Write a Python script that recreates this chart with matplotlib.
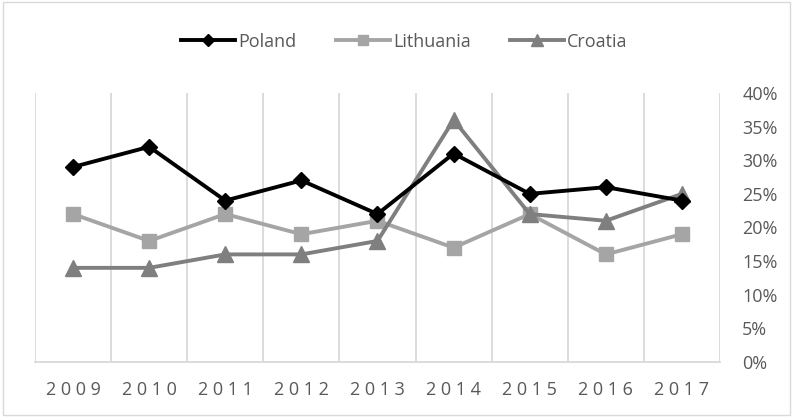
import numpy as np
import matplotlib.pyplot as plt
from matplotlib.patches import Rectangle
from matplotlib.ticker import FuncFormatter

years = ["2009", "2010", "2011", "2012", "2013", "2014", "2015", "2016", "2017"]
poland = [29, 32, 24, 27, 22, 31, 25, 26, 24]
lithuania = [22, 18, 22, 19, 21, 17, 22, 16, 19]
croatia = [14, 14, 16, 16, 18, 36, 22, 21, 25]

plt.rcParams['font.family'] = ['Open Sans', 'DejaVu Sans']
txt = '#595959'

fig = plt.figure(figsize=(7.93, 4.17), dpi=100)
ax = fig.add_axes([35 / 793, 55 / 417, 685 / 793, 269 / 417])

x = np.arange(len(years))
ax.plot(x, poland, color='black', lw=2.8, marker='D', ms=8, label='Poland', zorder=5)
ax.plot(x, lithuania, color='#A5A5A5', lw=2.8, marker='s', ms=10.5, label='Lithuania', zorder=3)
ax.plot(x, croatia, color='#7F7F7F', lw=2.8, marker='^', ms=11, label='Croatia', zorder=4)

ax.set_xlim(-0.5, len(years) - 0.5)
ax.set_ylim(0, 40)
ax.set_yticks(np.arange(0, 41, 5))
ax.yaxis.set_major_formatter(FuncFormatter(lambda v, p: f"{v:.0f}%"))
ax.yaxis.tick_right()
ax.set_xticks(x)
ax.set_xticklabels([" ".join(y) for y in years])
ax.tick_params(axis='both', length=0, labelsize=13, colors=txt)
ax.tick_params(axis='x', pad=14)
ax.tick_params(axis='y', pad=16)

# vertical gridlines at category boundaries
for b in np.arange(-0.5, len(years) + 0.5, 1):
    ax.axvline(b, color='#D9D9D9', lw=1.3, zorder=0)
for s in ['top', 'left', 'right']:
    ax.spines[s].set_visible(False)
ax.spines['bottom'].set_color('#D9D9D9')
ax.spines['bottom'].set_linewidth(1.3)

leg = fig.legend(loc='center', bbox_to_anchor=(0.51, 0.9), ncol=3, frameon=False,
                 fontsize=13, handlelength=3.0, handletextpad=0.15, columnspacing=2.2,
                 markerscale=0.75)
for t in leg.get_texts():
    t.set_color(txt)

fig.patches.append(Rectangle((0.004, 0.004), 0.992, 0.992, transform=fig.transFigure,
                             fill=False, edgecolor='#D9D9D9', lw=1))

fig.savefig('out.png', dpi=100)
